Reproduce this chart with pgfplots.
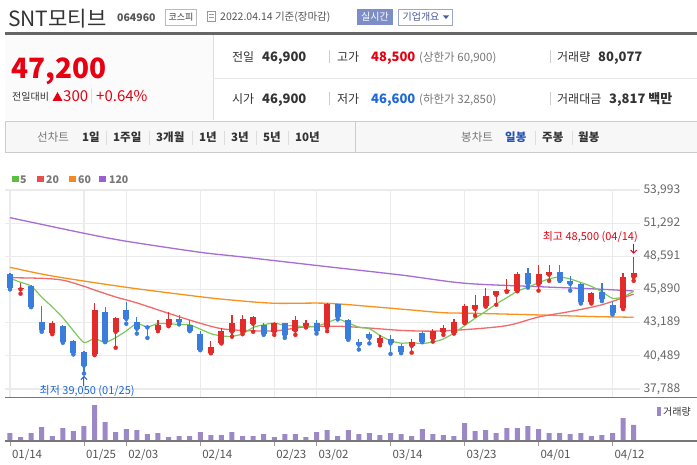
\documentclass[border=0pt]{standalone}
\usepackage{fontspec}
\setmainfont{Noto Sans CJK KR}
\usepackage{pgfplots}
\usepackage{pgfplotstable}
\pgfplotsset{compat=1.18}
\usetikzlibrary{arrows.meta}

\newcommand\fs[1]{\fontsize{#1}{#1}\selectfont}

\definecolor{cUp}{HTML}{E22B2B}
\definecolor{cDown}{HTML}{3B7DDD}
\definecolor{cMAa}{HTML}{7BC95C}
\definecolor{cMAb}{HTML}{F06A6A}
\definecolor{cMAc}{HTML}{F7921E}
\definecolor{cMAd}{HTML}{A66DD4}
\definecolor{cVol}{HTML}{9C87C7}
\definecolor{cGrid}{HTML}{EBEBEB}
\definecolor{cRed}{HTML}{E60012}
\definecolor{cBlue}{HTML}{1D67D8}
\definecolor{cSlate}{HTML}{7D8EC6}
\definecolor{cSlateD}{HTML}{4A5A9A}
\definecolor{cSlateL}{HTML}{9AA6D3}
\definecolor{cTab}{HTML}{2553B5}
\definecolor{c333}{HTML}{333333}
\definecolor{c555}{HTML}{555555}
\definecolor{c666}{HTML}{666666}
\definecolor{c777}{HTML}{777777}
\definecolor{c999}{HTML}{999999}
\definecolor{cBBB}{HTML}{BBBBBB}
\definecolor{cCCC}{HTML}{CCCCCC}
\definecolor{cDDD}{HTML}{DDDDDD}
\definecolor{cEEE}{HTML}{E8E8E8}
\definecolor{cF7}{HTML}{F7F7F7}
\definecolor{cFA}{HTML}{FBFBFB}
\definecolor{cLg1}{HTML}{5DBE3F}
\definecolor{cLg2}{HTML}{EE4B4B}
\definecolor{cLg3}{HTML}{F7881F}
\definecolor{cLg4}{HTML}{9C5FCF}

% daily candles, index = trading day from 01/14
\pgfplotstableread{
i o h l c
1 45900 46400 45550 46050
4 42350 43300 42250 43150
8 40600 44800 40550 44200
10 42450 43650 41150 43600
14 42600 43400 42500 43000
15 43000 44050 42900 43500
19 40750 41700 40700 41200
20 41550 42750 41500 42500
21 42450 43800 42050 43150
22 42400 43800 42250 43500
23 43100 43700 42450 43650
25 42450 43250 42200 43200
27 42550 43750 42200 43400
28 42900 43400 42800 43150
30 42800 44800 42500 44700
35 41550 42200 41350 41950
38 41300 41850 40750 41600
40 41900 42650 41650 42550
41 42450 43000 42200 42750
42 42350 43500 42300 43250
43 43200 44700 43150 44550
44 44300 45450 43750 44650
45 44550 46000 44500 45350
46 45450 45800 44650 45750
47 45750 46750 45700 45850
48 45800 47300 45750 47150
50 46300 47900 45800 47150
51 47100 47850 46600 47350
55 44850 45650 44750 45600
58 44350 47250 44300 46900
59 46900 48500 46600 47200
}\upcandles

\pgfplotstableread{
i o h l c
0 47150 47200 45900 46050
2 46150 46250 44450 44500
3 43250 44550 42450 42600
5 42950 43000 41550 41650
6 41700 41800 40600 40750
7 40800 40900 39050 39700
9 44050 44450 41600 41650
11 44200 44850 43100 43500
12 43250 43650 42300 42700
13 42950 43000 41950 42800
16 43500 43850 43050 43250
17 43000 43400 42500 42550
18 42300 42550 40950 41000
24 43000 43200 42200 42300
26 43150 43200 41950 42150
29 43150 43400 42300 42550
31 44700 44750 43450 43650
32 43400 43450 41800 41850
33 41600 41850 41000 41400
34 42250 42450 41500 41950
36 41850 42200 40650 41500
37 41300 41450 40700 40800
39 42350 42500 41600 41650
49 47250 47650 46050 46300
52 47300 47850 46600 46600
53 46550 46950 45800 46350
54 46350 46400 44750 44850
56 45650 46450 44950 45100
57 44650 44850 43850 43950
}\downcandles

\pgfplotstableread{
i v
0 40000
1 20000
2 40000
3 70000
4 25000
5 65000
6 50000
7 75000
8 180000
9 95000
10 45000
11 60000
12 55000
13 35000
14 40000
15 20000
16 25000
17 25000
18 45000
19 30000
20 30000
21 45000
22 25000
23 25000
24 35000
25 20000
26 35000
27 35000
28 20000
29 45000
30 55000
31 25000
32 55000
33 35000
34 40000
35 30000
36 40000
37 35000
38 25000
39 60000
40 35000
41 30000
42 25000
43 90000
44 50000
45 55000
46 40000
47 65000
48 65000
49 75000
50 60000
51 40000
52 40000
53 35000
54 40000
55 25000
56 30000
57 40000
58 115000
59 80077
}\volume

\begin{document}
\begin{tikzpicture}
% ---------- page header ----------
\begin{scope}[x=1pt,y=-1pt]
\fill[white] (0,0) rectangle (697,465);
\node[anchor=base west,inner sep=0,font=\fs{21},text=c333] at (8,27) {SNT모티브};
\node[anchor=base west,inner sep=0,font=\bfseries\fs{10.5},text=c555] at (117,22) {064960};
\draw[cBBB,fill=white] (165.5,9.5) rectangle (196.5,25.5);
\node[inner sep=0,font=\fs{9},text=c333] at (181,17.5) {코스피};
\draw[c999] (207.5,11.5) rectangle (215.5,21.5);
\draw[c999] (209,14.5) -- (214,14.5) (209,17) -- (214,17);
\node[anchor=base west,inner sep=0,font=\fs{10.5},text=c555] at (220,21) {2022.04.14 기준(장마감)};
\fill[cSlate] (357,9) rectangle (393,25);
\node[inner sep=0,font=\fs{10},text=white] at (375,17) {실시간};
\draw[cSlateL,fill=white] (398.5,9.5) rectangle (452.5,25.5);
\node[inner sep=0,font=\fs{10},text=cSlateD] at (421,17) {기업개요};
\fill[cSlateD] (443,15.5) -- (449,15.5) -- (446,19) -- cycle;
\draw[line width=2.5pt,c666] (5,33.5) -- (697,33.5);

% price summary
\fill[cFA] (5,35) rectangle (213,120);
\draw[cDDD] (213,35) -- (213,120);
\draw[cEEE] (213,78.5) -- (697,78.5);
\node[anchor=base west,inner sep=0,font=\bfseries\fs{28},text=cRed] at (11,79) {47,200};
\node[anchor=base west,inner sep=0,font=\fs{10},text=c333] at (12,101) {전일대비};
\fill[cRed] (52.5,101) -- (62.5,101) -- (57.5,92) -- cycle;
\node[anchor=base west,inner sep=0,font=\fs{15},text=cRed] at (63,102) {300};
\draw[cDDD] (91,89) -- (91,103);
\node[anchor=base west,inner sep=0,font=\fs{15},text=cRed] at (96,102) {+0.64\%};

% row 1
\node[anchor=base west,inner sep=0,font=\fs{12},text=c333] at (232,62) {전일};
\node[anchor=base west,inner sep=0,font=\bfseries\fs{13},text=c333] at (262,62) {46,900};
\draw[cCCC] (329,50) -- (329,63);
\node[anchor=base west,inner sep=0,font=\fs{12},text=c333] at (337,62) {고가};
\node[anchor=base west,inner sep=0,font=\bfseries\fs{13},text=cRed] at (371,62) {48,500};
\node[anchor=base west,inner sep=0,font=\fs{11.5},text=c777] at (419,62) {(상한가 60,900)};
\draw[cCCC] (550,50) -- (550,63);
\node[anchor=base west,inner sep=0,font=\fs{12},text=c333] at (557,62) {거래량};
\node[anchor=base west,inner sep=0,font=\bfseries\fs{13},text=c333] at (598,62) {80,077};
% row 2
\node[anchor=base west,inner sep=0,font=\fs{12},text=c333] at (232,104) {시가};
\node[anchor=base west,inner sep=0,font=\bfseries\fs{13},text=c333] at (262,104) {46,900};
\draw[cCCC] (329,92) -- (329,105);
\node[anchor=base west,inner sep=0,font=\fs{12},text=c333] at (337,104) {저가};
\node[anchor=base west,inner sep=0,font=\bfseries\fs{13},text=cBlue] at (371,104) {46,600};
\node[anchor=base west,inner sep=0,font=\fs{11.5},text=c777] at (419,104) {(하한가 32,850)};
\draw[cCCC] (550,92) -- (550,105);
\node[anchor=base west,inner sep=0,font=\fs{12},text=c333] at (557,104) {거래대금};
\node[anchor=base west,inner sep=0,font=\bfseries\fs{13},text=c333] at (609,104) {3,817 백만};

% tab bar
\fill[cF7] (5,121) rectangle (697,152);
\draw[cCCC] (5,121) -- (697,121) (5,152) -- (697,152) (5,121) -- (5,152);
\draw[cCCC] (355,121) -- (355,152);
\node[anchor=base west,inner sep=0,font=\fs{11.5},text=c777] at (37,142) {선차트};
\foreach \xx/\tt in {82/1일,113/1주일,156/3개월,199/1년,231/3년,263/5년,295/10년}
  \node[anchor=base west,inner sep=0,font=\bfseries\fs{11.5},text=c333] at (\xx,142) {\tt};
\foreach \xx in {106,149,192,224,256,288,535,572}
  \draw[cDDD] (\xx,131) -- (\xx,145);
\node[anchor=base west,inner sep=0,font=\fs{11.5},text=c777] at (461,142) {봉차트};
\node[anchor=base west,inner sep=0,font=\bfseries\fs{11.5},text=cTab] at (505,142) {일봉};
\node[anchor=base west,inner sep=0,font=\bfseries\fs{11.5},text=c333] at (542,142) {주봉};
\node[anchor=base west,inner sep=0,font=\bfseries\fs{11.5},text=c333] at (578,142) {월봉};

% moving-average legend
\foreach \xs/\xt/\cc/\tt in {12/20/cLg1/5,37/46/cLg2/20,69/78/cLg3/60,99/109/cLg4/120}{
  \fill[\cc] (\xs,176) rectangle (\xs+6.5,182.5);
  \node[anchor=base west,inner sep=0,font=\bfseries\fs{10.5},text=c777] at (\xt,183.5) {\tt};
}
\end{scope}

% ---------- price panel ----------
\begin{axis}[
  at={(5pt,-190pt)}, anchor=north west,
  scale only axis, width=635pt, height=207pt,
  xmin=-0.473, xmax=59.6, ymin=37137, ymax=53993,
  axis line style={draw=none},
  scaled y ticks=false,
  xtick={0,7,11,18,25,29,36,43,50,57}, xticklabels={},
  ytick={37788,40489,43189,45890,48591,51292,53993},
  yticklabels={{37,788},{40,489},{43,189},{45,890},{48,591},{51,292},{53,993}},
  yticklabel pos=right,
  yticklabel style={font=\fs{12}, text=c666, anchor=west},
  major tick length=0pt,
  grid=major, major grid style={draw=cGrid, line width=1.2pt},
  clip=false,
]
% 120-day
\addplot[cMAd, line width=1.3pt, smooth, no marks] coordinates {
(0,51740)(7,50470)(11,49820)(18,48920)(22,48540)(30,47750)(37,47070)(43,46400)(50,46120)(55,45950)(59,45770)};
% 60-day
\addplot[cMAc, line width=1.3pt, smooth, no marks] coordinates {
(0,47700)(4,46990)(11,46070)(18,45300)(21,45030)(25,44770)(30,44770)(35,44440)(38,44220)(41,44000)(44,43950)(50,43820)(55,43690)(59,43630)};
% 20-day
\addplot[cMAb, line width=1.3pt, smooth, no marks] coordinates {
(0,46850)(3,46800)(5,46650)(7,46150)(8,45850)(10,45280)(12,44800)(15,43950)(18,43140)(20,42700)(22,42560)(25,42520)(28,42850)(31,42900)(34,42750)(37,42560)(40,42500)(43,42620)(47,42950)(50,43650)(53,44100)(56,44650)(59,45520)};
% 5-day
\addplot[cMAa, line width=1.2pt, smooth, tension=0.35, no marks] coordinates {
(0,46800)(1,46480)(2,46180)(3,45270)(4,44470)(5,43590)(6,42530)(7,41570)(8,41890)(9,41580)(10,41970)(11,42520)(12,43120)(13,42840)(14,43120)(15,43100)(16,43050)(17,43020)(18,42660)(19,42300)(20,42100)(21,42080)(22,42270)(23,42800)(24,43020)(25,43160)(26,42960)(27,42940)(28,42840)(29,42890)(30,43190)(31,43490)(32,43170)(33,42820)(34,42700)(35,42150)(36,41720)(37,41520)(38,41560)(39,41490)(40,41610)(41,41860)(42,42350)(43,42940)(44,43550)(45,44110)(46,44710)(47,45230)(48,45750)(49,46080)(50,46440)(51,46760)(52,46910)(53,46750)(54,46460)(55,46150)(56,45700)(57,45170)(58,45280)(59,45750)};

% wicks
\addplot[cUp, only marks, mark=none, error bars/.cd, y dir=plus, y explicit, error mark=none,
  error bar style={line width=1.2pt, cUp}]
  table[x=i, y=l, y error expr=\thisrow{h}-\thisrow{l}] {\upcandles};
\addplot[cDown, only marks, mark=none, error bars/.cd, y dir=plus, y explicit, error mark=none,
  error bar style={line width=1.2pt, cDown}]
  table[x=i, y=l, y error expr=\thisrow{h}-\thisrow{l}] {\downcandles};
% bodies
\addplot[cUp, only marks, mark=none, error bars/.cd, y dir=plus, y explicit, error mark=none,
  error bar style={line width=6pt, cUp}]
  table[x=i, y=o, y error expr=\thisrow{c}-\thisrow{o}] {\upcandles};
\addplot[cDown, only marks, mark=none, error bars/.cd, y dir=plus, y explicit, error mark=none,
  error bar style={line width=6pt, cDown}]
  table[x=i, y=c, y error expr=\thisrow{o}-\thisrow{c}] {\downcandles};

% extreme annotations
\draw[cBlue, line width=1pt, -{Straight Barb[length=3pt,width=6pt]}] (axis cs:7,38000) -- (axis cs:7,38850);
\node[font=\fs{11}, text=cBlue, inner sep=0] at (axis cs:7.3,37640) {최저 39,050 (01/25)};
\draw[cRed, line width=1pt, -{Straight Barb[length=3pt,width=6pt]}] (axis cs:59,49600) -- (axis cs:59,48800);
\node[font=\fs{11}, text=cRed, inner sep=0] at (axis cs:54.9,50170) {최고 48,500 (04/14)};
\end{axis}

% ---------- volume panel ----------
\begin{axis}[
  at={(5pt,-398pt)}, anchor=north west,
  scale only axis, width=635pt, height=43pt,
  xmin=-0.473, xmax=59.6, ymin=0, ymax=215000,
  axis line style={draw=none},
  scaled y ticks=false,
  ytick=\empty,
  xtick={0,7,11,18,25,29,36,43,50,57},
  xticklabels={01/14,01/25,02/03,02/14,02/23,03/02,03/14,03/23,04/01,04/12},
  xticklabel style={font=\fs{11.5}, text=c555, anchor=north west, xshift=-1.5pt},
  xtick pos=bottom, tick align=outside, major tick length=4.5pt,
  xtick style={draw=c999, line width=0.8pt},
  clip=false,
]
\addplot[ybar, bar width=5pt, fill=cVol, draw=none] table[x=i, y=v] {\volume};
\end{axis}

\begin{scope}[x=1pt,y=-1pt]
\draw[c777, line width=1.5pt] (5,397.5) -- (697,397.5);
\draw[c777, line width=1.2pt] (5,441) -- (697,441);
\fill[cVol] (657,407) rectangle (661,416);
\node[anchor=base west,inner sep=0,font=\fs{10},text=c333] at (663,416) {거래량};
\pgfresetboundingbox
\path[use as bounding box] (0,0) rectangle (697,465);
\end{scope}
\end{tikzpicture}
\end{document}
